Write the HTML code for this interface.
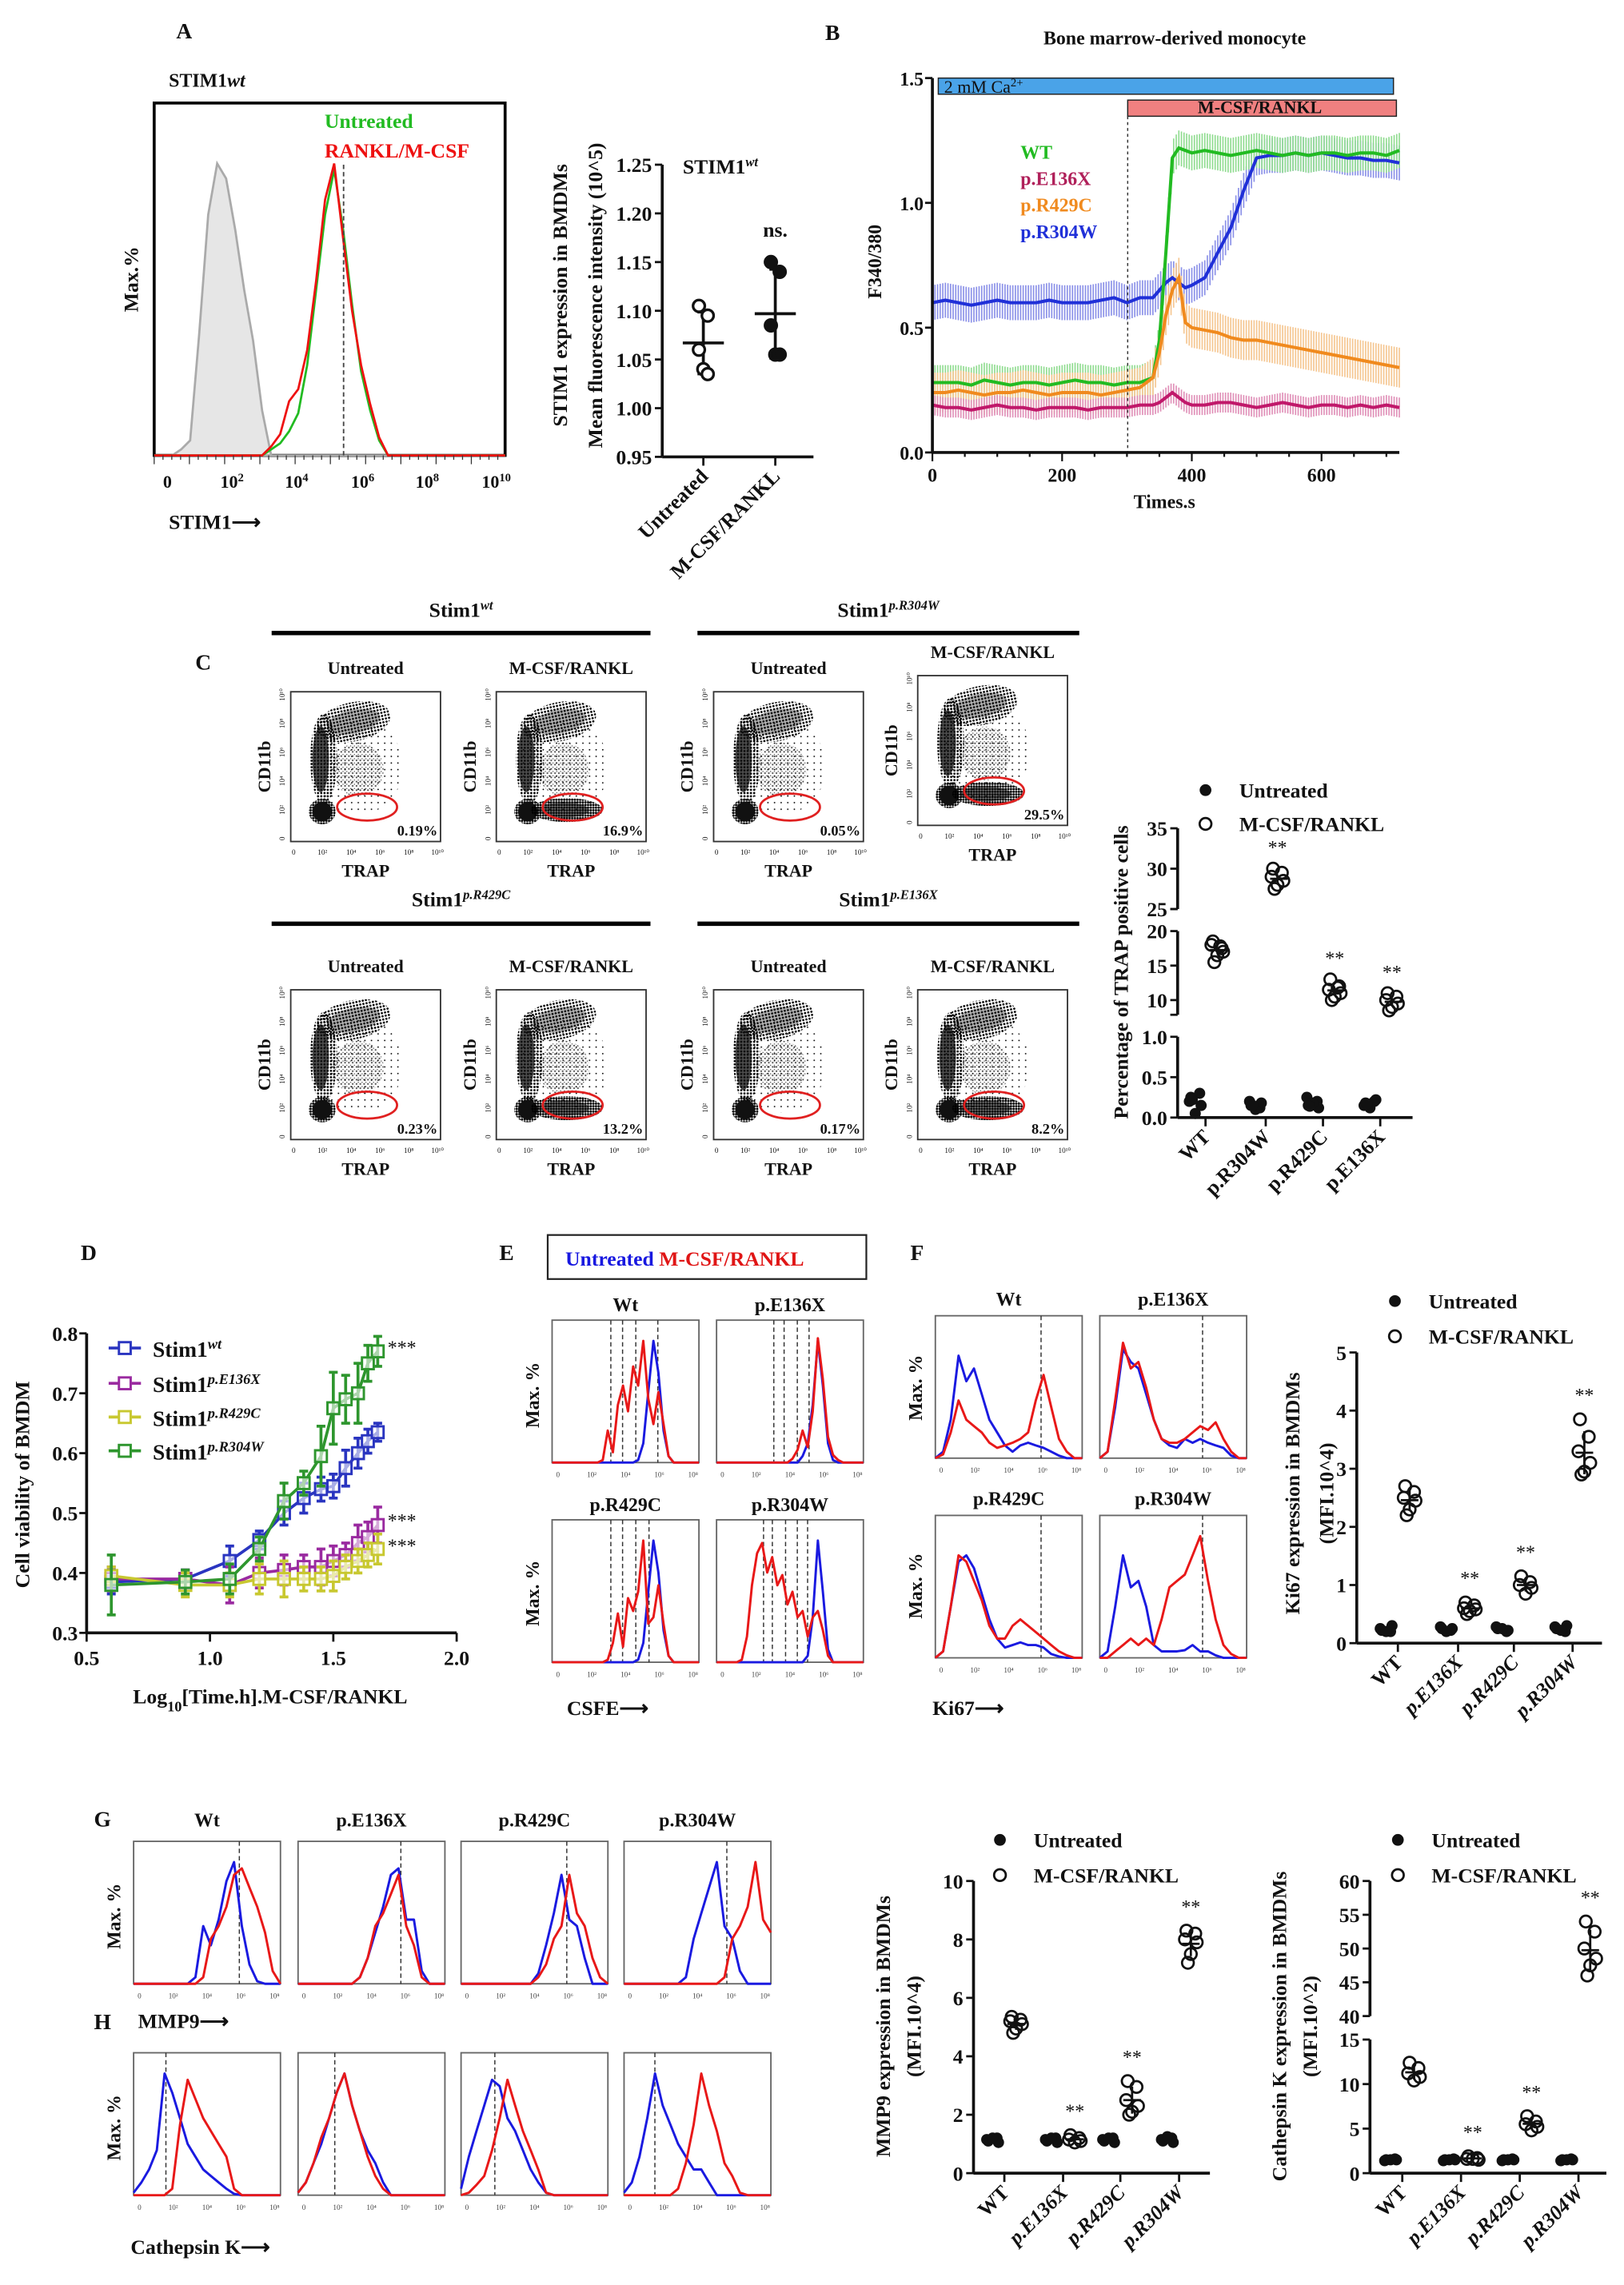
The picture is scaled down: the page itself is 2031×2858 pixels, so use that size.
<!DOCTYPE html>
<html><head><meta charset="utf-8">
<style>
html,body{margin:0;padding:0;background:#fff;}
svg{display:block;}
</style></head>
<body>
<svg id="fig" xmlns="http://www.w3.org/2000/svg" width="2031" height="2858" viewBox="0 0 1106 1556">
<defs>
<pattern id="pDense" width="2.2" height="2.2" patternUnits="userSpaceOnUse"><circle cx="1" cy="1" r="0.75" fill="#000"/></pattern>
<pattern id="pDark" width="1.8" height="1.8" patternUnits="userSpaceOnUse"><circle cx="0.9" cy="0.9" r="0.8" fill="#000"/></pattern>
<pattern id="pMed" width="2.6" height="2.9" patternUnits="userSpaceOnUse"><circle cx="1" cy="1.5" r="0.6" fill="#000"/><circle cx="2.2" cy="0.4" r="0.4" fill="#000"/></pattern>
<pattern id="pSparse" width="4.5" height="4.5" patternUnits="userSpaceOnUse"><circle cx="1" cy="2" r="0.5" fill="#000"/></pattern>
</defs>
<rect x="0" y="0" width="1106" height="1556" fill="#fff"/>
</svg>
<script>
// ===================== DATA =====================
const aGrey=[0,0,0,0.02,0.05,0.4,0.8,0.97,0.92,0.75,0.55,0.38,0.15,0,0,0,0,0,0,0,0,0,0,0,0,0,0,0,0,0,0,0,0,0,0,0,0,0,0,0];
const aGreen=[0,0,0,0,0,0,0,0,0,0,0,0,0,0.02,0.04,0.08,0.14,0.3,0.55,0.8,0.95,0.75,0.5,0.28,0.15,0.05,0,0,0,0,0,0,0,0,0,0,0,0,0,0];
const aRed=[0,0,0,0,0,0,0,0,0,0,0,0,0,0.03,0.07,0.18,0.22,0.35,0.58,0.85,0.97,0.72,0.48,0.3,0.17,0.06,0,0,0,0,0,0,0,0,0,0,0,0,0,0];
const aCats=['Untreated','M-CSF/RANKL'];
const aUntreated=[1.105,1.095,1.06,1.04,1.035];
const aTreated=[1.15,1.14,1.085,1.055,1.055];
const bTime=[0,20,40,60,80,100,120,140,160,180,200,220,240,260,280,300,320,340,350,360,370,380,390,400,420,440,460,480,500,520,540,560,580,600,620,640,660,680,700,720];
const bWT=[0.28,0.28,0.28,0.27,0.29,0.28,0.27,0.28,0.28,0.27,0.28,0.29,0.28,0.28,0.27,0.28,0.28,0.3,0.45,0.8,1.18,1.22,1.21,1.2,1.21,1.2,1.19,1.2,1.21,1.2,1.19,1.2,1.19,1.2,1.2,1.19,1.2,1.2,1.19,1.21];
const bE136X=[0.19,0.18,0.18,0.17,0.18,0.19,0.18,0.18,0.17,0.18,0.18,0.18,0.17,0.18,0.18,0.18,0.19,0.19,0.2,0.22,0.24,0.22,0.2,0.19,0.19,0.2,0.2,0.19,0.18,0.19,0.2,0.19,0.18,0.19,0.19,0.18,0.19,0.18,0.19,0.18];
const bR429C=[0.24,0.24,0.25,0.24,0.23,0.24,0.24,0.25,0.24,0.23,0.24,0.24,0.24,0.23,0.24,0.25,0.26,0.3,0.4,0.55,0.65,0.7,0.52,0.5,0.49,0.48,0.46,0.45,0.45,0.44,0.43,0.42,0.41,0.4,0.39,0.38,0.37,0.36,0.35,0.34];
const bR304W=[0.6,0.61,0.6,0.59,0.6,0.61,0.6,0.6,0.6,0.61,0.6,0.6,0.6,0.61,0.62,0.6,0.62,0.62,0.65,0.68,0.7,0.68,0.66,0.67,0.7,0.8,0.9,1.05,1.18,1.19,1.19,1.2,1.19,1.2,1.19,1.18,1.18,1.17,1.17,1.16];
const bSD=[0.07,0.04,0.08,0.07];
const cCats=['WT','p.R304W','p.R429C','p.E136X'];
const cUntreated=[[0.25,0.3,0.2,0.15,0.05,0.22],[0.15,0.12,0.2,0.18,0.1,0.15],[0.15,0.2,0.25,0.12,0.18,0.14],[0.18,0.2,0.15,0.22,0.12,0.17]];
const cTreated=[[18.5,17.5,18,17,16.5,15.5,17.8],[30,29.5,29,28.5,28,27.5],[13,12,11.5,11,10.5,10,11.8],[11,10.5,10,9.5,9,8.5]];
const cPercent=['0.19%','16.9%','0.05%','29.5%','0.23%','13.2%','0.17%','8.2%'];
const dX=[0.6,0.9,1.08,1.2,1.3,1.38,1.45,1.5,1.55,1.6,1.64,1.68];
const dWT=[0.385,0.39,0.42,0.455,0.5,0.525,0.54,0.545,0.575,0.6,0.62,0.635];
const dE136X=[0.39,0.39,0.38,0.4,0.405,0.41,0.41,0.42,0.43,0.45,0.46,0.48];
const dR429C=[0.395,0.38,0.38,0.39,0.39,0.39,0.39,0.395,0.41,0.42,0.43,0.44];
const dR304W=[0.38,0.385,0.39,0.44,0.52,0.55,0.595,0.675,0.69,0.7,0.75,0.77];
const dErr=[[0.02,0.015,0.025,0.015,0.02,0.025,0.02,0.02,0.03,0.025,0.02,0.015],[0.02,0.015,0.03,0.025,0.025,0.02,0.03,0.025,0.02,0.03,0.025,0.03],[0.015,0.02,0.02,0.025,0.03,0.02,0.02,0.025,0.02,0.02,0.02,0.025],[0.05,0.02,0.025,0.02,0.03,0.02,0.05,0.06,0.04,0.05,0.03,0.025]];
const dNames=['Stim1','Stim1','Stim1','Stim1'];
const dSup=['wt','p.E136X','p.R429C','p.R304W'];
const eBlue=[
[0,0,0,0,0,0,0,0,0,0,0,0,0,0,0,0,0,0.02,0.15,0.55,0.95,0.7,0.25,0.05,0,0,0,0,0,0],
[0,0,0,0,0,0,0,0,0,0,0,0,0,0,0,0,0,0.05,0.15,0.45,0.95,0.6,0.15,0.02,0,0,0,0,0,0],
[0,0,0,0,0,0,0,0,0,0,0,0,0,0,0,0,0,0.02,0.15,0.55,0.95,0.7,0.25,0.05,0,0,0,0,0,0],
[0,0,0,0,0,0,0,0,0,0,0,0,0,0,0,0,0,0,0.05,0.35,0.95,0.55,0.1,0,0,0,0,0,0,0]];
const eRed=[
[0,0,0,0,0,0,0,0,0,0,0.02,0.25,0.08,0.45,0.6,0.4,0.75,0.6,0.95,0.5,0.3,0.55,0.3,0.05,0,0,0,0,0,0],
[0,0,0,0,0,0,0,0,0,0,0,0,0,0,0,0.03,0.1,0.25,0.12,0.4,0.97,0.65,0.2,0.06,0.02,0,0,0,0,0],
[0,0,0,0,0,0,0,0,0,0,0,0.02,0.15,0.38,0.12,0.5,0.4,0.55,0.95,0.3,0.35,0.6,0.3,0.05,0,0,0,0,0,0],
[0,0,0,0,0,0.02,0.2,0.6,0.85,0.93,0.7,0.82,0.6,0.68,0.45,0.55,0.35,0.4,0.2,0.35,0.4,0.25,0.05,0,0,0,0,0,0,0]];
const eDash=[[0.4,0.48,0.57,0.72],[0.39,0.46,0.55,0.63],[0.4,0.48,0.57,0.66],[0.32,0.38,0.47,0.55,0.62]];
const genoLabels=['Wt','p.E136X','p.R429C','p.R304W'];
const fBlue=[
[0,0.05,0.3,0.8,0.6,0.7,0.5,0.3,0.2,0.1,0.05,0.1,0.12,0.1,0.08,0.05,0.02,0,0,0],
[0,0.05,0.4,0.85,0.75,0.7,0.5,0.3,0.15,0.1,0.08,0.15,0.12,0.15,0.12,0.1,0.08,0.02,0,0],
[0,0.05,0.4,0.75,0.8,0.7,0.5,0.3,0.15,0.08,0.1,0.12,0.1,0.1,0.08,0.03,0.01,0,0,0],
[0,0.05,0.4,0.8,0.55,0.6,0.4,0.1,0.05,0.05,0.05,0.06,0.1,0.05,0.05,0.02,0,0,0,0]];
const fRed=[
[0,0.03,0.2,0.45,0.3,0.25,0.2,0.12,0.08,0.1,0.12,0.15,0.2,0.45,0.65,0.4,0.15,0.05,0,0],
[0,0.05,0.45,0.9,0.7,0.75,0.55,0.3,0.15,0.12,0.12,0.15,0.2,0.25,0.22,0.28,0.15,0.05,0,0],
[0,0.05,0.4,0.8,0.75,0.6,0.45,0.25,0.15,0.15,0.25,0.3,0.25,0.2,0.15,0.1,0.05,0.02,0,0],
[0,0,0.05,0.1,0.15,0.1,0.15,0.1,0.3,0.55,0.6,0.65,0.8,0.95,0.6,0.3,0.1,0.03,0,0]];
const fDash=[0.72,0.7,0.72,0.7];
const kCats=['WT','p.E136X','p.R429C','p.R304W'];
const kUntreated=[[0.22,0.2,0.25,0.3,0.2],[0.25,0.22,0.28,0.25,0.2],[0.25,0.2,0.28,0.22,0.25],[0.25,0.2,0.28,0.3,0.22]];
const kTreated=[[2.7,2.6,2.5,2.45,2.3,2.2],[0.7,0.65,0.6,0.58,0.55,0.5],[1.15,1.05,1.0,0.95,0.85],[3.85,3.55,3.3,3.1,2.95,2.9]];
const gBlue=[
[0,0,0,0,0,0,0,0,0.05,0.45,0.3,0.5,0.8,0.95,0.45,0.15,0.02,0,0,0],
[0,0,0,0,0,0,0,0,0.05,0.2,0.4,0.6,0.85,0.9,0.5,0.5,0.1,0,0,0],
[0,0,0,0,0,0,0,0,0,0,0.08,0.3,0.55,0.85,0.5,0.45,0.2,0,0,0],
[0,0,0,0,0,0,0,0,0.05,0.35,0.55,0.75,0.95,0.45,0.35,0.1,0,0,0,0]];
const gRed=[
[0,0,0,0,0,0,0,0,0,0.05,0.35,0.45,0.6,0.85,0.9,0.75,0.6,0.4,0.1,0],
[0,0,0,0,0,0,0,0,0.05,0.2,0.45,0.55,0.7,0.85,0.45,0.3,0.05,0,0,0],
[0,0,0,0,0,0,0,0,0,0,0.05,0.15,0.35,0.45,0.85,0.55,0.45,0.2,0.05,0],
[0,0,0,0,0,0,0,0,0,0,0,0,0,0.05,0.35,0.45,0.6,0.95,0.5,0.4]];
const gDash=[0.72,0.7,0.72,0.7];
const hBlue=[
[0.02,0.1,0.2,0.35,0.95,0.8,0.6,0.4,0.3,0.2,0.15,0.1,0.05,0.01,0,0,0,0,0,0],
[0.02,0.1,0.25,0.4,0.6,0.8,0.95,0.7,0.5,0.35,0.25,0.1,0,0,0,0,0,0,0,0],
[0.05,0.3,0.5,0.7,0.9,0.85,0.6,0.5,0.35,0.2,0.1,0.02,0,0,0,0,0,0,0,0],
[0.02,0.1,0.3,0.6,0.95,0.7,0.55,0.4,0.3,0.2,0.2,0.1,0,0,0,0,0,0,0,0]];
const hRed=[
[0,0,0,0,0,0.05,0.55,0.9,0.75,0.6,0.5,0.4,0.3,0.05,0,0,0,0,0,0],
[0.02,0.1,0.25,0.45,0.6,0.8,0.95,0.7,0.5,0.3,0.15,0.05,0,0,0,0,0,0,0,0],
[0,0.02,0.08,0.15,0.35,0.6,0.9,0.7,0.5,0.35,0.2,0.02,0,0,0,0,0,0,0,0],
[0,0,0,0,0,0,0,0.05,0.25,0.55,0.95,0.7,0.5,0.25,0.15,0.02,0,0,0,0]];
const hDash=[0.22,0.25,0.23,0.21];
const mUntreated=[[1.1,1.2,1.15,1.05,1.2],[1.1,1.2,1.15,1.05,1.2],[1.1,1.2,1.15,1.05,1.2],[1.1,1.2,1.15,1.05,1.25]];
const mTreated=[[5.35,5.25,5.2,5.1,4.95,4.8],[1.3,1.2,1.15,1.1,1.05],[3.15,2.95,2.5,2.3,2.1,2.0],[8.3,8.2,8.0,7.9,7.5,7.2]];
const ctkUntreated=[[1.5,1.6,1.4,1.5,1.5],[1.5,1.6,1.4,1.5,1.5],[1.5,1.6,1.4,1.5,1.5],[1.5,1.6,1.4,1.5,1.5]];
const ctkTreated=[[12.4,11.8,11.2,10.8,10.4],[1.9,1.7,1.6,1.5,1.6],[6.4,5.8,5.5,5.2,4.8],[54,52.5,50,48.5,47.5,46]];

// ===================== HELPERS =====================
const NS='http://www.w3.org/2000/svg';
const svg=document.getElementById('fig');
const FONT='"Liberation Serif", serif';
function mk(tag,attrs,name,parent){
  const e=document.createElementNS(NS,tag);
  for(const k in attrs) e.setAttribute(k,attrs[k]);
  
  
  (parent||svg).appendChild(e);
  return e;
}
function tx(x,y,s,o,name){
  o=o||{};
  const a={x:x,y:y,'font-size':o.fs||13,'font-weight':o.fw||'bold','text-anchor':o.a||'start',fill:o.c||'#111','font-family':FONT};
  if(o.tr) a.transform=o.tr;
  if(o.it) a['font-style']='italic';
  const e=mk('text',a,name);
  if(o.html) e.innerHTML=s; else e.textContent=s;
  return e;
}
function ln(x1,y1,x2,y2,c,w,name,dash){
  const a={x1:x1,y1:y1,x2:x2,y2:y2,stroke:c||'#111','stroke-width':w||1.5};
  if(dash) a['stroke-dasharray']=dash;
  return mk('line',a,name);
}
function mean(a){return a.reduce((s,v)=>s+v,0)/a.length;}
function sd(a){const m=mean(a);return Math.sqrt(a.reduce((s,v)=>s+(v-m)*(v-m),0)/(a.length-1));}
function hist(bx,by,bw,bh,arr,color,name,fill){
  const n=arr.length;
  let d='';
  arr.forEach((v,i)=>{const x=bx+i*bw/(n-1);const y=by+bh-v*bh*0.9;d+=(i?'L':'M')+x.toFixed(1)+','+y.toFixed(1);});
  if(fill){d+='L'+(bx+bw)+','+(by+bh)+'L'+bx+','+(by+bh)+'Z';}
  return mk('path',{d:d,fill:fill||'none',stroke:color,'stroke-width':1.6,'stroke-linejoin':'round'},name);
}
function histBox(bx,by,bw,bh,name){
  mk('rect',{x:bx,y:by,width:bw,height:bh,fill:'#fff',stroke:'#666','stroke-width':1},name);
  const labs=['0','10²','10⁴','10⁶','10⁸'];
  labs.forEach((l,i)=>{tx(bx+4+i*(bw-8)/4,by+bh+10,l,{fs:5,fw:'normal',a:'middle',c:'#444'},'x-tick-label');});
}

// ===================== PANEL A =====================
tx(120,26,'A',{fs:15},'panel-label-a');
tx(115,59,'STIM1<tspan font-style="italic">wt</tspan>',{fs:13,html:true},'histogram-title');
{
  const bx=105,by=70,bw=239,bh=240;
  mk('rect',{x:bx,y:by,width:bw,height:bh,fill:'#fff',stroke:'#000','stroke-width':2},'histogram-frame');
  const yOf=v=>by+bh-v*205;
  function ah(arr,c,name,fill){let d='';arr.forEach((v,i)=>{const x=bx+i*bw/(arr.length-1);d+=(i?'L':'M')+x.toFixed(1)+','+yOf(v).toFixed(1);});if(fill)d+='Z';return mk('path',{d:d,fill:fill||'none',stroke:c,'stroke-width':1.5},name);}
  ah(aGrey,'#aaa','isotype-histogram','#e6e6e6');
  ah(aGreen,'#22bb22','untreated-histogram');
  ah(aRed,'#ee1111','treated-histogram');
  ln(234,112,234,bh+by,'#444',1,'median-dashed-line','3,2');
  tx(221,87,'Untreated',{fs:14,c:'#22bb22'},'legend-untreated');
  tx(221,107,'RANKL/M-CSF',{fs:14,c:'#ee1111'},'legend-treated');
  const xl=[['0',114],['10<tspan baseline-shift="super" font-size="8">2</tspan>',158],['10<tspan baseline-shift="super" font-size="8">4</tspan>',202],['10<tspan baseline-shift="super" font-size="8">6</tspan>',247],['10<tspan baseline-shift="super" font-size="8">8</tspan>',291],['10<tspan baseline-shift="super" font-size="8">10</tspan>',338]];
  xl.forEach(p=>tx(p[1],332,p[0],{fs:12,a:'middle',html:true},'x-tick-label'));
  for(let i=0;i<40;i++) ln(bx+i*6,310,bx+i*6,i%4?313:316,'#333',0.7,'x-tick');
  tx(115,360,'STIM1⟶',{fs:14},'x-axis-title');
  tx(94,190,'Max.%',{fs:14,a:'middle',tr:'rotate(-90 94 190)'},'y-axis-title');
}
{
  const ax=451,y0=311,y1=112;
  const yv=v=>y0-(v-0.95)/(0.30)*(y0-y1);
  ln(ax,y1,ax,y0,'#111',2,'y-axis');
  ln(ax,y0,554,y0,'#111',2,'x-axis');
  [0.95,1.00,1.05,1.10,1.15,1.20,1.25].forEach(t=>{ln(ax-5,yv(t),ax,yv(t),'#111',1.5,'y-tick');tx(ax-7,yv(t)+5,t.toFixed(2),{fs:14,a:'end'},'y-tick-label');});
  const cx=[479,528];
  aCats.forEach((c,i)=>{ln(cx[i],y0,cx[i],y0+6,'#111',1.5,'x-tick');tx(cx[i]+4,y0+14,c,{fs:14,a:'end',tr:'rotate(-45 '+(cx[i]+4)+' '+(y0+14)+')'},'x-tick-label');});
  const off=[-3,3,-3,0,3];
  [aUntreated,aTreated].forEach((arr,g)=>{
    const m=mean(arr),s=sd(arr);
    ln(cx[g],yv(m+s),cx[g],yv(m-s),'#111',2,'error-bar');
    ln(cx[g]-4,yv(m+s),cx[g]+4,yv(m+s),'#111',2,'error-cap');
    ln(cx[g]-4,yv(m-s),cx[g]+4,yv(m-s),'#111',2,'error-cap');
    ln(cx[g]-14,yv(m),cx[g]+14,yv(m),'#111',2,'mean-line');
    arr.forEach((v,i)=>mk('circle',{cx:cx[g]+off[i],cy:yv(v),r:4,fill:g?'#111':'#fff',stroke:'#111','stroke-width':1.8},g?'treated-point':'untreated-point'));
  });
  tx(465,118,'STIM1<tspan baseline-shift="super" font-size="9" font-style="italic">wt</tspan>',{fs:14,html:true},'scatter-title');
  tx(528,161,'ns.',{fs:14,a:'middle'},'significance-label');
  tx(386,201,'STIM1 expression in BMDMs',{fs:14,a:'middle',tr:'rotate(-90 386 201)'},'y-axis-title-line1');
  tx(410,201,'Mean fluorescence intensity (10^5)',{fs:14,a:'middle',tr:'rotate(-90 410 201)'},'y-axis-title-line2');
}

// ===================== PANEL B =====================
tx(562,27,'B',{fs:15},'panel-label-b');
tx(800,30,'Bone marrow-derived monocyte',{fs:13,a:'middle'},'chart-title');
{
  const ax=635,ay=308,xEnd=953;
  const xs=t=>ax+t*(900-ax)/600;
  const ys=v=>ay-v*(ay-53)/1.5;
  const series=[[bR304W,'#2030d8','#8a90e8','p.R304W'],[bWT,'#22bb22','#90dc90','WT'],[bR429C,'#f08a1e','#f5c690','p.R429C'],[bE136X,'#c0186a','#e090b8','p.E136X']];
  const sdIdx={'WT':0,'p.E136X':1,'p.R429C':2,'p.R304W':3};
  series.forEach(s=>{
    const arr=s[0],e=bSD[sdIdx[s[3]]];
    for(let t=0;t<=720;t+=4){
      let k=0;while(k<bTime.length-2&&bTime[k+1]<t)k++;
      const f=(t-bTime[k])/(bTime[k+1]-bTime[k]);
      const v=arr[k]+(arr[k+1]-arr[k])*Math.min(1,Math.max(0,f));
      ln(xs(t),ys(v+e),xs(t),ys(v-e),s[2],0.9,'error-bar');
    }
  });
  series.forEach(s=>{
    const d=s[0].map((v,i)=>(i?'L':'M')+xs(bTime[i]).toFixed(1)+','+ys(v).toFixed(1)).join('');
    mk('path',{d:d,fill:'none',stroke:s[1],'stroke-width':2.2},'series-'+s[3].toLowerCase().replace('.',''));
  });
  mk('rect',{x:639,y:53,width:310,height:11,fill:'#4aa3e8',stroke:'#222','stroke-width':0.8},'calcium-bar');
  tx(643,63,'2 mM Ca<tspan baseline-shift="super" font-size="8">2+</tspan>',{fs:12,fw:'normal',html:true},'calcium-bar-label');
  mk('rect',{x:768,y:68,width:183,height:11,fill:'#f08080',stroke:'#222','stroke-width':0.8},'treatment-bar');
  tx(858,77,'M-CSF/RANKL',{fs:12,a:'middle'},'treatment-bar-label');
  ln(768,79,768,ay,'#333',0.8,'treatment-start-line','2,2');
  ln(ax,53,ax,ay,'#111',2,'y-axis');
  ln(ax,ay,xEnd,ay,'#111',2,'x-axis');
  [0,0.5,1.0,1.5].forEach(t=>{ln(ax-5,ys(t),ax,ys(t),'#111',1.5,'y-tick');tx(ax-6,ys(t)+5,t.toFixed(1),{fs:13,a:'end'},'y-tick-label');});
  for(let t=0;t<=720;t+=50){ln(xs(t),ay,xs(t),ay+(t%200?3:6),'#111',1.2,'x-tick');}
  [0,200,400,600].forEach(t=>tx(xs(t),ay+20,String(t),{fs:13,a:'middle'},'x-tick-label'));
  tx(793,346,'Times.s',{fs:13,a:'middle'},'x-axis-title');
  tx(600,178,'F340/380',{fs:13,a:'middle',tr:'rotate(-90 600 178)'},'y-axis-title');
  tx(695,108,'WT',{fs:13,c:'#22bb22'},'legend-wt');
  tx(695,126,'p.E136X',{fs:13,c:'#b0205a'},'legend-e136x');
  tx(695,144,'p.R429C',{fs:13,c:'#f08a1e'},'legend-r429c');
  tx(695,162,'p.R304W',{fs:13,c:'#2030d8'},'legend-r304w');
}

// ===================== PANEL C =====================
tx(133,456,'C',{fs:15},'panel-label-c');
const groups=[['Stim1','wt',185,443,420,431],['Stim1','p.R304W',475,735,420,431],['Stim1','p.R429C',185,443,617,629],['Stim1','p.E136X',475,735,617,629]];
groups.forEach(g=>{
  tx((g[2]+g[3])/2,g[4],g[0]+'<tspan font-size="9" font-style="italic" baseline-shift="super">'+g[1]+'</tspan>',{fs:14,a:'middle',html:true},'genotype-title');
  ln(g[2],g[5],g[3],g[5],'#000',3,'genotype-bar');
});
function flow(bx,by,treated,pct,name){
  const w=102,h=102;
  mk('rect',{x:bx,y:by,width:w,height:h,fill:'#fff',stroke:'#333','stroke-width':1},name+'-frame');
  mk('ellipse',{cx:bx+w*0.45,cy:by+h*0.5,rx:w*0.3,ry:h*0.32,fill:'url(#pSparse)'},'sparse-events');
  mk('ellipse',{cx:bx+w*0.45,cy:by+h*0.52,rx:w*0.17,ry:h*0.18,fill:'url(#pMed)',opacity:0.7},'mid-events');
  mk('ellipse',{cx:bx+w*0.42,cy:by+h*0.2,rx:w*0.25,ry:h*0.13,fill:'url(#pDense)',transform:'rotate(-12 '+(bx+w*0.42)+' '+(by+h*0.2)+')'},'upper-events');
  mk('ellipse',{cx:bx+w*0.42,cy:by+h*0.2,rx:w*0.18,ry:h*0.08,fill:'#222',opacity:0.35,transform:'rotate(-12 '+(bx+w*0.42)+' '+(by+h*0.2)+')'},'upper-core');
  mk('ellipse',{cx:bx+w*0.22,cy:by+h*0.45,rx:w*0.09,ry:h*0.3,fill:'url(#pDense)'},'column-events');
  mk('ellipse',{cx:bx+w*0.2,cy:by+h*0.45,rx:w*0.055,ry:h*0.22,fill:'#111',opacity:0.75},'column-core');
  mk('ellipse',{cx:bx+w*0.21,cy:by+h*0.8,rx:w*0.09,ry:h*0.085,fill:'url(#pDark)'},'low-cluster-halo');
  mk('ellipse',{cx:bx+w*0.21,cy:by+h*0.8,rx:w*0.065,ry:h*0.065,fill:'#111'},'low-cluster');
  if(treated){
    mk('ellipse',{cx:bx+w*0.47,cy:by+h*0.79,rx:w*0.24,ry:h*0.08,fill:'url(#pDark)'},'trap-positive-events');
    mk('ellipse',{cx:bx+w*0.45,cy:by+h*0.79,rx:w*0.17,ry:h*0.05,fill:'#111',opacity:0.55},'trap-positive-core');
  }
  mk('ellipse',{cx:bx+w*0.51,cy:by+h*0.77,rx:w*0.2,ry:h*0.09,fill:'none',stroke:'#e02020','stroke-width':1.5},'trap-gate');
  tx(bx+w-2,by+h-4,pct,{fs:10,a:'end'},'gate-percentage');
  ['0','10²','10⁴','10⁶','10⁸','10¹⁰'].forEach((l,i)=>tx(bx+2+i*(w-4)/5,by+h+9,l,{fs:5,fw:'normal',a:'middle'},'x-tick-label'));
  ['0','10²','10⁴','10⁶','10⁸','10¹⁰'].forEach((l,i)=>tx(bx-4,by+h-2-i*(h-4)/5,l,{fs:5,fw:'normal',a:'middle',tr:'rotate(-90 '+(bx-4)+' '+(by+h-2-i*(h-4)/5)+')'},'y-tick-label'));
  tx(bx+w/2,by+h+24,'TRAP',{fs:12,a:'middle'},'x-axis-title');
  tx(bx-14,by+h/2,'CD11b',{fs:12,a:'middle',tr:'rotate(-90 '+(bx-14)+' '+(by+h/2)+')'},'y-axis-title');
  tx(bx+w/2,by-12,treated?'M-CSF/RANKL':'Untreated',{fs:12,a:'middle'},'condition-title');
}
const fx=[198,338,486,625];
[0,1,2,3].forEach(i=>flow(fx[i],i==3?460:471,i%2==1,cPercent[i],'flow-plot-row1-'+i));
[0,1,2,3].forEach(i=>flow(fx[i],674,i%2==1,cPercent[4+i],'flow-plot-row2-'+i));
{
  const ax=802,y0=761;
  function yv(v){
    if(v<=1) return 761-(v/1)*(761-706);
    if(v<=20) return 681-(v-10)/10*(681-634);
    return 619-(v-25)/10*(619-564);
  }
  ln(ax,706,ax,y0,'#111',2,'y-axis-lower');
  ln(ax,634,ax,691,'#111',2,'y-axis-middle');
  ln(ax,564,ax,619,'#111',2,'y-axis-upper');
  ln(ax,y0,962,y0,'#111',2,'x-axis');
  [[0,'0.0'],[0.5,'0.5'],[1,'1.0'],[10,'10'],[15,'15'],[20,'20'],[25,'25'],[30,'30'],[35,'35']].forEach(t=>{ln(ax-5,yv(t[0]),ax,yv(t[0]),'#111',1.5,'y-tick');tx(ax-7,yv(t[0])+5,t[1],{fs:14,a:'end'},'y-tick-label');});
  ln(ax-5,691,ax,691,'#111',1.5,'y-break-tick');ln(ax-5,619,ax,619,'#111',1.5,'y-break-tick');
  const cx=[821,862,901,940];
  const off=[-3,3,-4,4,0,-2,2];
  cCats.forEach((c,i)=>{
    ln(cx[i],y0,cx[i],y0+6,'#111',1.5,'x-tick');
    tx(cx[i]+4,y0+14,c,{fs:14,a:'end',tr:'rotate(-45 '+(cx[i]+4)+' '+(y0+14)+')'},'x-tick-label');
    cUntreated[i].forEach((v,k)=>mk('circle',{cx:cx[i]-7+off[k],cy:yv(v),r:3.8,fill:'#111'},'untreated-point'));
    const arr=cTreated[i],m=mean(arr);
    ln(cx[i]+3,yv(m),cx[i]+15,yv(m),'#111',1.5,'mean-line');
    arr.forEach((v,k)=>mk('circle',{cx:cx[i]+8+off[k],cy:yv(v),r:4,fill:'none',stroke:'#111','stroke-width':1.5},'treated-point'));
    if(i>0) tx(cx[i]+8,yv(Math.max(...arr))-10,'**',{fs:13,a:'middle',fw:'normal'},'significance-label');
  });
  mk('circle',{cx:821,cy:538,r:4,fill:'#111'},'legend-untreated-marker');
  tx(844,543,'Untreated',{fs:14},'legend-untreated');
  mk('circle',{cx:821,cy:561,r:4,fill:'none',stroke:'#111','stroke-width':1.5},'legend-treated-marker');
  tx(844,566,'M-CSF/RANKL',{fs:14},'legend-treated');
  tx(768,662,'Percentage of TRAP positive cells',{fs:14,a:'middle',tr:'rotate(-90 768 662)'},'y-axis-title');
}

// ===================== PANEL D =====================
tx(55,858,'D',{fs:15},'panel-label-d');
{
  const ax=59,ay=1112;
  const xs=v=>ax+(v-0.5)*(311-ax)/1.5;
  const ys=v=>ay-(v-0.3)*(ay-908)/0.5;
  ln(ax,908,ax,ay,'#111',2,'y-axis');
  ln(ax,ay,311,ay,'#111',2,'x-axis');
  [0.3,0.4,0.5,0.6,0.7,0.8].forEach(t=>{ln(ax-5,ys(t),ax,ys(t),'#111',1.5,'y-tick');tx(ax-6,ys(t)+5,t.toFixed(1),{fs:14,a:'end'},'y-tick-label');});
  [0.5,1.0,1.5,2.0].forEach(t=>{ln(xs(t),ay,xs(t),ay+6,'#111',1.5,'x-tick');tx(xs(t),ay+22,t.toFixed(1),{fs:14,a:'middle'},'x-tick-label');});
  const ser=[[dWT,'#2a35c0',0],[dE136X,'#9a2aa0',1],[dR429C,'#c8c830',2],[dR304W,'#2e962e',3]];
  ser.forEach(s=>{
    const d=s[0].map((v,i)=>(i?'L':'M')+xs(dX[i]).toFixed(1)+','+ys(v).toFixed(1)).join('');
    mk('path',{d:d,fill:'none',stroke:s[1],'stroke-width':2},'viability-line-'+dSup[s[2]]);
    s[0].forEach((v,i)=>{
      const e=dErr[s[2]][i];
      ln(xs(dX[i]),ys(v+e),xs(dX[i]),ys(v-e),s[1],2,'error-bar');
      ln(xs(dX[i])-3,ys(v+e),xs(dX[i])+3,ys(v+e),s[1],2,'error-cap');
      ln(xs(dX[i])-3,ys(v-e),xs(dX[i])+3,ys(v-e),s[1],2,'error-cap');
      mk('rect',{x:xs(dX[i])-4,y:ys(v)-4,width:8,height:8,fill:'#fff','fill-opacity':0.6,stroke:s[1],'stroke-width':1.6},'viability-point');
    });
  });
  const ly=[918,942,965,988];
  ser.forEach((s,k)=>{
    ln(74,ly[k],96,ly[k],s[1],2,'legend-line');
    mk('rect',{x:81,y:ly[k]-4,width:8,height:8,fill:'#fff',stroke:s[1],'stroke-width':1.6},'legend-marker');
    tx(104,ly[k]+6,dNames[k]+'<tspan baseline-shift="super" font-size="10" font-style="italic">'+dSup[k]+'</tspan>',{fs:15,html:true},'legend-entry');
  });
  tx(264,922,'***',{fs:13,fw:'normal'},'significance-r304w');
  tx(264,1040,'***',{fs:13,fw:'normal'},'significance-e136x');
  tx(264,1057,'***',{fs:13,fw:'normal'},'significance-r429c');
  tx(184,1160,'Log<tspan baseline-shift="sub" font-size="10">10</tspan>[Time.h].M-CSF/RANKL',{fs:14,a:'middle',html:true},'x-axis-title');
  tx(20,1011,'Cell viability of BMDM',{fs:14,a:'middle',tr:'rotate(-90 20 1011)'},'y-axis-title');
}

// ===================== PANEL E =====================
tx(340,858,'E',{fs:15},'panel-label-e');
mk('rect',{x:373,y:841,width:217,height:30,fill:'#fff',stroke:'#222','stroke-width':1.2},'legend-box');
tx(385,862,'Untreated <tspan fill="#e01515">M-CSF/RANKL</tspan>',{fs:14,c:'#1818e0',html:true},'legend-text');
{
  const pos=[[376,899],[488,899],[376,1035],[488,1035]];
  pos.forEach((p,i)=>{
    histBox(p[0],p[1],100,97,'csfe-histogram-frame');
    eDash[i].forEach(f=>ln(p[0]+f*100,p[1],p[0]+f*100,p[1]+97,'#333',0.8,'generation-dashed-line','3,2'));
    hist(p[0],p[1],100,97,eBlue[i],'#1a1ae0','untreated-histogram');
    hist(p[0],p[1],100,97,eRed[i],'#e81818','treated-histogram');
    tx(p[0]+50,p[1]-6,genoLabels[i],{fs:13,a:'middle'},'histogram-title');
  });
  tx(367,950,'Max. %',{fs:13,a:'middle',tr:'rotate(-90 367 950)'},'y-axis-title');
  tx(367,1085,'Max. %',{fs:13,a:'middle',tr:'rotate(-90 367 1085)'},'y-axis-title');
  tx(386,1168,'CSFE⟶',{fs:14},'x-axis-title');
}

// ===================== PANEL F =====================
tx(620,858,'F',{fs:15},'panel-label-f');
{
  const pos=[[637,896],[749,896],[637,1032],[749,1032]];
  pos.forEach((p,i)=>{
    histBox(p[0],p[1],100,97,'ki67-histogram-frame');
    ln(p[0]+fDash[i]*100,p[1],p[0]+fDash[i]*100,p[1]+97,'#333',0.8,'gate-dashed-line','3,2');
    hist(p[0],p[1],100,97,fBlue[i],'#1a1ae0','untreated-histogram');
    hist(p[0],p[1],100,97,fRed[i],'#e81818','treated-histogram');
    tx(p[0]+50,p[1]-7,genoLabels[i],{fs:13,a:'middle'},'histogram-title');
  });
  tx(628,945,'Max. %',{fs:13,a:'middle',tr:'rotate(-90 628 945)'},'y-axis-title');
  tx(628,1080,'Max. %',{fs:13,a:'middle',tr:'rotate(-90 628 1080)'},'y-axis-title');
  tx(635,1168,'Ki67⟶',{fs:14},'x-axis-title');
}
function dotPlot(cfg){
  const ax=cfg.ax,y0=cfg.y0,yv=cfg.yv;
  cfg.axisSegs.forEach(sg=>ln(ax,sg[0],ax,sg[1],'#111',2,'y-axis'));
  ln(ax,y0,cfg.xEnd,y0,'#111',2,'x-axis');
  cfg.ticks.forEach(t=>{ln(ax-5,yv(t[0]),ax,yv(t[0]),'#111',1.5,'y-tick');tx(ax-7,yv(t[0])+5,t[1],{fs:14,a:'end'},'y-tick-label');});
  const off=[-3,3,-4,4,0,-2,2];
  cfg.cats.forEach((c,i)=>{
    const x=cfg.cx[i];
    ln(x,y0,x,y0+6,'#111',1.5,'x-tick');
    tx(x+4,y0+14,c,{fs:14,a:'end',it:i>0,tr:'rotate(-45 '+(x+4)+' '+(y0+14)+')'},'x-tick-label');
    cfg.un[i].forEach((v,k)=>mk('circle',{cx:x-8+off[k],cy:yv(v),r:3.8,fill:'#111'},'untreated-point'));
    const arr=cfg.tr[i],m=mean(arr),s=sd(arr);
    ln(x+8,yv(m+s),x+8,yv(m-s),'#111',1.5,'error-bar');
    ln(x+2,yv(m),x+14,yv(m),'#111',1.5,'mean-line');
    arr.forEach((v,k)=>mk('circle',{cx:x+8+off[k],cy:yv(v),r:4,fill:'none',stroke:'#111','stroke-width':1.5},'treated-point'));
    if(cfg.sig[i]) tx(x+8,yv(Math.max(...arr))-12,'**',{fs:13,a:'middle',fw:'normal'},'significance-label');
  });
  mk('circle',{cx:cfg.lx,cy:cfg.ly,r:4,fill:'#111'},'legend-untreated-marker');
  tx(cfg.lx+23,cfg.ly+5,'Untreated',{fs:14},'legend-untreated');
  mk('circle',{cx:cfg.lx,cy:cfg.ly+24,r:4,fill:'none',stroke:'#111','stroke-width':1.5},'legend-treated-marker');
  tx(cfg.lx+23,cfg.ly+29,'M-CSF/RANKL',{fs:14},'legend-treated');
  tx(cfg.tx1,cfg.tyc,cfg.t1,{fs:14,a:'middle',tr:'rotate(-90 '+cfg.tx1+' '+cfg.tyc+')'},'y-axis-title-line1');
  tx(cfg.tx2,cfg.tyc,cfg.t2,{fs:14,a:'middle',tr:'rotate(-90 '+cfg.tx2+' '+cfg.tyc+')'},'y-axis-title-line2');
}
dotPlot({ax:924,y0:1119,xEnd:1091,yv:v=>1119-v*(1119-921)/5,axisSegs:[[921,1119]],
  ticks:[[0,'0'],[1,'1'],[2,'2'],[3,'3'],[4,'4'],[5,'5']],cats:kCats,cx:[952,993,1031,1071],
  un:kUntreated,tr:kTreated,sig:[false,true,true,true],lx:950,ly:886,
  tx1:885,tx2:908,tyc:1017,t1:'Ki67 expression in BMDMs',t2:'(MFI.10^4)'});

// ===================== PANEL G / H =====================
tx(64,1244,'G',{fs:15},'panel-label-g');
tx(64,1382,'H',{fs:15},'panel-label-h');
{
  const gx=[91,203,314,425];
  gx.forEach((x,i)=>{
    tx(x+50,1244,genoLabels[i],{fs:13,a:'middle'},'histogram-title');
    histBox(x,1254,100,97,'mmp9-histogram-frame');
    ln(x+gDash[i]*100,1254,x+gDash[i]*100,1351,'#333',0.8,'mean-dashed-line','3,2');
    hist(x,1254,100,97,gBlue[i],'#1a1ae0','untreated-histogram');
    hist(x,1254,100,97,gRed[i],'#e81818','treated-histogram');
    histBox(x,1398,100,97,'cathepsin-histogram-frame');
    ln(x+hDash[i]*100,1398,x+hDash[i]*100,1495,'#333',0.8,'mean-dashed-line','3,2');
    hist(x,1398,100,97,hBlue[i],'#1a1ae0','untreated-histogram');
    hist(x,1398,100,97,hRed[i],'#e81818','treated-histogram');
  });
  tx(82,1305,'Max. %',{fs:13,a:'middle',tr:'rotate(-90 82 1305)'},'y-axis-title');
  tx(82,1449,'Max. %',{fs:13,a:'middle',tr:'rotate(-90 82 1449)'},'y-axis-title');
  tx(94,1381,'MMP9⟶',{fs:14},'x-axis-title');
  tx(89,1535,'Cathepsin K⟶',{fs:14},'x-axis-title');
}
dotPlot({ax:663,y0:1480,xEnd:824,yv:v=>1480-v*(1480-1281)/10,axisSegs:[[1281,1480]],
  ticks:[[0,'0'],[2,'2'],[4,'4'],[6,'6'],[8,'8'],[10,'10']],cats:kCats,cx:[684,724,763,803],
  un:mUntreated,tr:mTreated,sig:[false,true,true,true],lx:681,ly:1253,
  tx1:606,tx2:627,tyc:1380,t1:'MMP9 expression in BMDMs',t2:'(MFI.10^4)'});
dotPlot({ax:933,y0:1480,xEnd:1094,yv:v=>v<=15?1480-v*(1480-1389)/15:1373-(v-40)*(1373-1281)/20,axisSegs:[[1389,1480],[1281,1373]],
  ticks:[[0,'0'],[5,'5'],[10,'10'],[15,'15'],[40,'40'],[45,'45'],[50,'50'],[55,'55'],[60,'60']],cats:kCats,cx:[955,995,1035,1075],
  un:ctkUntreated,tr:ctkTreated,sig:[false,true,true,true],lx:952,ly:1253,
  tx1:876,tx2:897,tyc:1380,t1:'Cathepsin K expression in BMDMs',t2:'(MFI.10^2)'});
</script>
</body></html>
